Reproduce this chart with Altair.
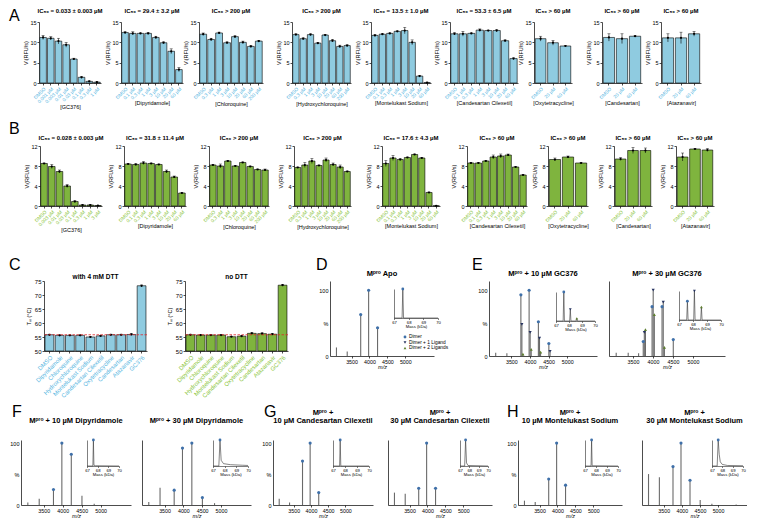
import altair as alt
import pandas as pd

FONT = "Liberation Sans"
BLUE = "#8fcbe0"
BLUE_TXT = "#5ab7df"
GREEN = "#7fb43e"
GREEN_TXT = "#8cc63e"
DIMER_COL = "#3f70a9"
LIG1_COL = "#26335f"
LIG2_COL = "#5e7f2e"
PEAK_COL = "#6a6a6a"

# ---------------- concentrations / categories ----------------
conc_gc376_a = ["DMSO", "0.001 µM", "0.003 µM", "0.01 µM", "0.03 µM", "0.1 µM", "0.3 µM", "1 µM"]
conc_gc376_b = ["DMSO", "0.003 µM", "0.01 µM", "0.03 µM", "0.1 µM", "0.3 µM", "1 µM", "3 µM"]
conc_60 = ["DMSO", "0.1 µM", "0.3 µM", "1 µM", "3 µM", "10 µM", "20 µM", "60 µM"]
conc_200 = ["DMSO", "0.3 µM", "1 µM", "3 µM", "10 µM", "20 µM", "60 µM", "200 µM"]
conc_3 = ["DMSO", "20 µM", "60 µM"]
drug_titles = ["[GC376]", "[Dipyridamole]", "[Chloroquine]", "[Hydroxychloroquine]",
               "[Montelukast Sodium]", "[Candesartan Cilexetil]", "[Oxytetracycline]",
               "[Candesartan]", "[Atazanavir]"]
ic50_a = ["IC₅₀ = 0.033 ± 0.003 µM", "IC₅₀ = 29.4 ± 3.2 µM", "IC₅₀ > 200 µM", "IC₅₀ > 200 µM",
          "IC₅₀ = 13.5 ± 1.0 µM", "IC₅₀ = 53.3 ± 6.5 µM", "IC₅₀ > 60 µM", "IC₅₀ > 60 µM", "IC₅₀ > 60 µM"]
ic50_b = ["IC₅₀ = 0.028 ± 0.003 µM", "IC₅₀ = 31.8 ± 11.4 µM", "IC₅₀ > 200 µM", "IC₅₀ > 200 µM",
          "IC₅₀ = 17.6 ± 4.3 µM", "IC₅₀ > 60 µM", "IC₅₀ > 60 µM", "IC₅₀ > 60 µM", "IC₅₀ > 60 µM"]

# ---------------- row A (RFU/s) ----------------
a_gc376 = [11.2, 11.0, 10.3, 9.4, 5.9, 1.4, 0.4, 0.2]
a_gc376_err = [0.5, 0.4, 0.7, 0.6, 0.2, 0.2, 0.1, 0.1]
a_dip = [12.4, 12.2, 12.2, 12.2, 11.2, 9.9, 7.8, 3.3]
a_dip_err = [0.2, 0.4, 0.1, 0.2, 0.3, 0.2, 0.6, 0.5]
a_cq = [12.0, 10.7, 12.3, 9.9, 11.4, 10.0, 9.0, 10.3]
a_cq_err = [0.3, 0.3, 0.2, 0.2, 0.2, 0.3, 0.2, 0.2]
a_hcq = [11.9, 10.9, 11.9, 9.8, 11.8, 10.4, 9.0, 9.2]
a_hcq_err = [0.2, 0.2, 0.2, 0.2, 0.1, 0.3, 0.3, 0.2]
a_mk = [11.7, 12.0, 12.2, 12.7, 12.9, 10.0, 1.7, 0.1]
a_mk_err = [0.2, 0.1, 0.1, 0.1, 0.8, 0.6, 0.2, 0.1]
a_cc = [12.1, 12.1, 12.2, 13.0, 12.9, 12.9, 10.4, 6.0]
a_cc_err = [0.3, 0.6, 0.1, 0.3, 0.1, 0.3, 0.2, 0.2]
a_oxy = [10.9, 9.9, 9.1]
a_oxy_err = [0.6, 0.6, 0.1]
a_cand = [11.2, 10.9, 11.5]
a_cand_err = [0.9, 1.2, 0.1]
a_ata = [11.1, 11.1, 12.1]
a_ata_err = [1.0, 1.4, 0.6]

# ---------------- row B (RFU/s) ----------------
b_gc376 = [8.5, 7.9, 6.9, 4.0, 0.9, 0.2, 0.2, 0.1]
b_gc376_err = [0.1, 0.4, 0.3, 0.3, 0.2, 0.05, 0.05, 0.05]
b_dip = [8.4, 8.3, 8.6, 8.5, 8.3, 6.9, 5.8, 2.6]
b_dip_err = [0.1, 0.2, 0.3, 0.1, 0.1, 0.3, 0.2, 0.1]
b_cq = [8.2, 8.0, 9.0, 8.0, 8.7, 7.9, 7.3, 7.2]
b_cq_err = [0.1, 0.4, 0.1, 0.1, 0.1, 0.1, 0.1, 0.2]
b_hcq = [7.7, 8.2, 9.0, 8.1, 9.2, 8.3, 7.8, 6.9]
b_hcq_err = [0.1, 0.5, 0.5, 0.1, 0.4, 0.3, 0.4, 0.1]
b_mk = [8.5, 9.6, 9.3, 9.7, 10.3, 9.6, 2.7, 0.05]
b_mk_err = [0.6, 0.5, 0.2, 0.1, 0.1, 0.1, 0.1, 0.05]
b_cc = [8.6, 8.6, 9.0, 9.8, 10.0, 10.2, 7.8, 6.2]
b_cc_err = [0.1, 0.1, 0.1, 0.4, 0.4, 0.2, 0.1, 0.1]
b_oxy = [9.3, 9.8, 8.6]
b_oxy_err = [0.3, 0.2, 0.05]
b_cand = [9.4, 11.1, 11.1]
b_cand_err = [0.3, 0.6, 0.5]
b_ata = [9.8, 11.4, 11.2]
b_ata_err = [0.8, 0.1, 0.3]

# ---------------- row C (Tm) ----------------
c_compounds = ["DMSO", "Dipyridamole", "Chloroquine", "Hydroxychloroquine", "Montelukast Sodium",
               "Candesartan Cilexetil", "Oxytetracycline", "Candesartan", "Atazanavir", "GC376"]
c_dtt = [55.8, 55.6, 55.6, 55.6, 55.0, 55.4, 55.8, 55.8, 55.9, 73.3]
c_dtt_err = [0.2, 0.1, 0.1, 0.1, 0.2, 0.1, 0.2, 0.2, 0.3, 0.3]
c_nodtt = [55.8, 55.7, 55.7, 55.7, 55.1, 55.3, 56.3, 56.2, 56.0, 73.5]
c_nodtt_err = [0.2, 0.1, 0.1, 0.1, 0.1, 0.2, 0.3, 0.3, 0.2, 0.3]

# ---------------- native MS spectra (m/z, % intensity) ----------------
legend_names = ["Dimer", "Dimer + 1 Ligand", "Dimer + 2 Ligands"]
inset_ticks = [67, 68, 69, 70]
mz_ticks = [3500, 4000, 4500, 5000]

d_minor_mz = [3080, 3380]
d_minor_int = [13, 7]
d_dimer_mz = [3756, 3977, 4226]
d_dimer_int = [63, 100, 43]
d_inset_mass = [67.0, 67.55, 67.6, 67.65, 70.0]
d_inset_int = [0, 0, 100, 0, 0]

e1_minor_mz = [3080, 3380]
e1_minor_int = [5, 4]
e1_dimer_mz = [3756, 3977, 4226, 4507]
e1_dimer_int = [93, 100, 52, 19]
e1_l1_mz = [3783, 4005, 4256, 4539]
e1_l1_int = [48, 36, 27, 7]
e1_l2_mz = [3811, 4033, 4285]
e1_l2_int = [3, 10, 6]
e1_inset_mass = [67.0, 67.55, 67.6, 67.65, 68.05, 68.1, 68.15, 68.55, 68.6, 68.65, 70.0]
e1_inset_int = [0, 0, 100, 0, 0, 40, 0, 0, 9, 0, 0]
e1_inset_dimer = [100]
e1_inset_l1 = [40]
e1_inset_l2 = [9]

e2_minor_mz = [3080, 3380, 3640]
e2_minor_int = [5, 5, 4]
e2_dimer_mz = [3756, 3977, 4226, 4507]
e2_dimer_int = [22, 75, 75, 25]
e2_l1_mz = [3783, 4005, 4256]
e2_l1_int = [36, 100, 82]
e2_l2_mz = [3811, 4033, 4285]
e2_l2_int = [40, 63, 13]
e2_inset_mass = [67.0, 67.55, 67.6, 67.65, 68.05, 68.1, 68.15, 68.55, 68.6, 68.65, 70.0]
e2_inset_int = [0, 0, 65, 0, 0, 100, 0, 0, 45, 0, 0]
e2_inset_dimer = [65]
e2_inset_l1 = [100]
e2_inset_l2 = [45]

f1_minor_mz = [3080, 3380, 4507, 4830]
f1_minor_int = [4, 10, 15, 2]
f1_dimer_mz = [3756, 3977, 4226]
f1_dimer_int = [25, 100, 82]
f1_inset_mass = [67.0, 67.55, 67.6, 67.65, 67.8, 70.0]
f1_inset_int = [0, 0, 100, 3, 1, 0]

f2_minor_mz = [3080, 3380, 4830]
f2_minor_int = [5, 28, 3]
f2_dimer_mz = [3756, 3977, 4226, 4507]
f2_dimer_int = [24, 92, 100, 12]
f2_inset_mass = [67.0, 67.5, 67.6, 67.7, 67.9, 68.5, 69.5, 70.0]
f2_inset_int = [0, 0, 100, 22, 9, 5, 3, 2]

g1_minor_mz = [3080, 3380]
g1_minor_int = [10, 4]
g1_dimer_mz = [3756, 3977, 4226]
g1_dimer_int = [71, 100, 20]
g1_inset_mass = [67.0, 67.55, 67.6, 67.65, 70.0]
g1_inset_int = [0, 0, 100, 0, 0]

g2_minor_mz = [3080, 3380]
g2_minor_int = [20, 18]
g2_dimer_mz = [3756, 3977, 4226]
g2_dimer_int = [27, 100, 27]
g2_inset_mass = [67.0, 67.5, 67.6, 67.7, 67.85, 70.0]
g2_inset_int = [0, 0, 100, 12, 2, 0]

h1_minor_mz = [3080, 3380]
h1_minor_int = [7, 5]
h1_dimer_mz = [3756, 3977, 4226]
h1_dimer_int = [42, 100, 32]
h1_inset_mass = [67.0, 67.55, 67.6, 67.65, 70.0]
h1_inset_int = [0, 0, 100, 1, 0]

h2_minor_mz = [3080, 3380, 4507, 4830, 5500]
h2_minor_int = [50, 45, 8, 2, 1]
h2_dimer_mz = [3756, 3977, 4226]
h2_dimer_int = [62, 100, 40]
h2_inset_mass = [67.0, 67.5, 67.6, 67.7, 67.8, 68.0, 68.5, 70.0]
h2_inset_int = [0, 0, 100, 45, 16, 6, 2, 1]

ins_peak_mass = [67.6]
ins_l1_mass = [68.1]
ins_l2_mass = [68.6]
ins_full = [100]

MPRO = "Mᵖʳᵒ"


# ---------------- helpers ----------------
def spacer(top, left):
    # invisible extent marker: reserves room above / left of the plot area
    return alt.Chart(pd.DataFrame({"s": [0]})).mark_rule(strokeOpacity=0, strokeWidth=0.1).encode(
        x=alt.value(-left), x2=alt.value(0), y=alt.value(-top), y2=alt.value(0))


def dummy():
    return alt.Chart(pd.DataFrame({"s": [0]})).mark_rule(strokeOpacity=0, strokeWidth=0.1).encode(
        x=alt.value(0), y=alt.value(0), y2=alt.value(1)).properties(width=1, height=1)


def letter_mark(ch, dx, dy):
    return alt.Chart(pd.DataFrame({"t": [ch]})).mark_text(
        fontSize=16, font=FONT, align="left", baseline="top", color="black").encode(
        text="t:N", x=alt.value(dx), y=alt.value(dy))


def title_marks(lines, w, offset, size, lh):
    if isinstance(lines, str):
        lines = [lines]
    out = []
    for k, line in enumerate(reversed(lines)):
        out.append(alt.Chart(pd.DataFrame({"t": [line]})).mark_text(
            fontSize=size, font=FONT, fontWeight="bold", align="center", baseline="bottom",
            color="black").encode(text="t:N", x=alt.value(w / 2), y=alt.value(-offset - k * lh)))
    return out


def bar_panel(labels, vals, errs, fill, txtc, ymin, ymax, yticks, w, h, title, xtitle, ytitle,
              top, left, title_offset, letter=None, lpos=(0, 0), ref=None, label_size=4.8,
              title_size=6.0, ytitle_pad=1.5, ylab_size=5.5):
    df = pd.DataFrame({"label": labels, "v": vals, "e": errs})
    df["lo"] = (df["v"] - df["e"]).clip(lower=ymin)
    df["hi"] = df["v"] + df["e"]
    df["base"] = ymin
    sc = alt.Scale(domain=[ymin, ymax], nice=False, zero=False)
    xs = alt.Scale(paddingInner=0.14, paddingOuter=0.1)
    xax = alt.Axis(title=xtitle, labelAngle=-45, labelColor=txtc, labelFontSize=label_size,
                   labelOverlap=False, labelPadding=1, tickSize=2, titleFontSize=5.5,
                   titlePadding=1, titleFontWeight="normal")
    yax = alt.Axis(values=yticks, title=ytitle, labelFontSize=ylab_size, labelPadding=1, tickSize=2,
                   titleFontSize=5.5, titlePadding=ytitle_pad, minExtent=0,
                   titleFontWeight="normal")
    base = alt.Chart(df)
    xe = alt.X("label:N", sort=labels, scale=xs, axis=xax)
    bars = base.mark_bar(fill=fill, stroke="black", strokeWidth=0.6).encode(
        x=xe, y=alt.Y("v:Q", scale=sc, axis=yax), y2=alt.Y2("base"))
    err = base.mark_rule(color="black", strokeWidth=0.6).encode(
        x=xe, y=alt.Y("lo:Q", scale=sc, axis=yax), y2=alt.Y2("hi"))
    cap = base.mark_tick(color="black", thickness=0.6, size=3).encode(
        x=xe, y=alt.Y("hi:Q", scale=sc, axis=yax))
    pts = base.mark_point(filled=True, color="black", size=5, opacity=1).encode(
        x=xe, y=alt.Y("v:Q", scale=sc, axis=yax))
    layers = [bars, err, cap, pts]
    if ref is not None:
        layers.append(alt.Chart(pd.DataFrame({"r": [ref]})).mark_rule(
            color="#e0262b", strokeDash=[2.5, 1.5], strokeWidth=0.8).encode(
            y=alt.Y("r:Q", scale=sc, axis=yax)))
    layers.append(spacer(top, left))
    layers += title_marks(title, w, title_offset, title_size, 8)
    if letter:
        layers.append(letter_mark(letter, lpos[0], lpos[1]))
    return alt.layer(*layers).properties(width=w, height=h)


def spectrum(w, h, ymax, title, minor_mz, minor_int, dim_mz, dim_int, l1_mz, l1_int, l2_mz, l2_int,
             ins_mass, ins_int, ins_pts, ix, iy, show_labels, top, left, title_offset,
             letter=None, lpos=(0, 0), legend_pos=None, title_size=7.5):
    df = pd.DataFrame({"mz": minor_mz + dim_mz + l1_mz + l2_mz,
                       "int": minor_int + dim_int + l1_int + l2_int})
    df["base"] = 0
    xs = alt.Scale(domain=[2900, 5800], nice=False)
    ys = alt.Scale(domain=[0, ymax], nice=False)
    xax = alt.Axis(values=mz_ticks, format="d", title="m/z", titleFontStyle="italic",
                   labelFontSize=5.3, titleFontSize=5.5, tickSize=2, labelPadding=1, titlePadding=0,
                   titleFontWeight="normal", labelFlush=False)
    yax = alt.Axis(values=[0, 50, 100], labels=show_labels,
                   labelExpr="datum.value == 50 ? '%' : datum.label", ticks=False, title=None,
                   labelFontSize=5.5, labelPadding=2, minExtent=0)
    xe = alt.X("mz:Q", scale=xs, axis=xax)
    ye = alt.Y("int:Q", scale=ys, axis=yax)
    main = [alt.Chart(df).mark_rule(color=PEAK_COL, strokeWidth=1.1).encode(
        x=xe, y=ye, y2=alt.Y2("base"))]
    for mzs, ints, shape, col in [(dim_mz, dim_int, "circle", DIMER_COL),
                                  (l1_mz, l1_int, "triangle-down", LIG1_COL),
                                  (l2_mz, l2_int, "triangle-up", LIG2_COL)]:
        if mzs:
            main.append(alt.Chart(pd.DataFrame({"mz": mzs, "int": ints})).mark_point(
                shape=shape, filled=True, color=col, size=10, opacity=1).encode(x=xe, y=ye))
    main.append(spacer(top, left))
    main += title_marks(title, w, title_offset, title_size, 8.5)
    if letter:
        main.append(letter_mark(letter, lpos[0], lpos[1]))
    if legend_pos is not None:
        shapes = ["circle", "triangle-down", "triangle-up"]
        cols = [DIMER_COL, LIG1_COL, LIG2_COL]
        for i, name in enumerate(legend_names):
            main.append(alt.Chart(pd.DataFrame({"t": [name]})).mark_point(
                shape=shapes[i], filled=True, color=cols[i], size=8, opacity=1).encode(
                x=alt.value(legend_pos[0]), y=alt.value(legend_pos[1] + i * 5.5)))
            main.append(alt.Chart(pd.DataFrame({"t": [name]})).mark_text(
                fontSize=4.8, font=FONT, align="left", baseline="middle", color="black").encode(
                text="t:N", x=alt.value(legend_pos[0] + 4), y=alt.value(legend_pos[1] + i * 5.5)))

    ixs = alt.Scale(domain=[67, 70], range=list(ix), nice=False)
    iys = alt.Scale(domain=[0, 100], range=[iy[0], iy[1]], nice=False)
    ixax = alt.Axis(orient="bottom", offset=iy[0] - h, values=inset_ticks, title="Mass (kDa)",
                    labelFontSize=4.2, titleFontSize=4.2, tickSize=1.5, labelPadding=0.5,
                    titlePadding=0.5, domainWidth=0.5, tickWidth=0.5, titleFontWeight="normal",
                    labelFlush=False)
    iyax = alt.Axis(orient="left", offset=-ix[0], labels=False, ticks=False, title=None,
                    domainWidth=0.5, minExtent=0)
    ixe = alt.X("mass:Q", scale=ixs, axis=ixax)
    iye = alt.Y("rel:Q", scale=iys, axis=iyax)
    inset = [alt.Chart(pd.DataFrame({"mass": ins_mass, "rel": ins_int})).mark_line(
        color="#333333", strokeWidth=0.6).encode(x=ixe, y=iye)]
    for masses, rels, shape, col in ins_pts:
        inset.append(alt.Chart(pd.DataFrame({"mass": masses, "rel": rels})).mark_point(
            shape=shape, filled=True, color=col, size=8, opacity=1).encode(x=ixe, y=iye))
    ch = alt.layer(alt.layer(*main), alt.layer(*inset)).resolve_scale(x="independent", y="independent")
    return ch.properties(width=w, height=h)


# ---------------- rows A / B ----------------
a_sets = [(conc_gc376_a, a_gc376, a_gc376_err), (conc_60, a_dip, a_dip_err), (conc_200, a_cq, a_cq_err),
          (conc_200, a_hcq, a_hcq_err), (conc_60, a_mk, a_mk_err), (conc_60, a_cc, a_cc_err),
          (conc_3, a_oxy, a_oxy_err), (conc_3, a_cand, a_cand_err), (conc_3, a_ata, a_ata_err)]
b_sets = [(conc_gc376_b, b_gc376, b_gc376_err), (conc_60, b_dip, b_dip_err), (conc_200, b_cq, b_cq_err),
          (conc_200, b_hcq, b_hcq_err), (conc_60, b_mk, b_mk_err), (conc_60, b_cc, b_cc_err),
          (conc_3, b_oxy, b_oxy_err), (conc_3, b_cand, b_cand_err), (conc_3, b_ata, b_ata_err)]
a_widths = [62, 62, 64, 59, 60, 68, 38, 40, 40]
a_left = [14, 18, 16, 29, 20, 19, 16, 28, 19]
b_widths = [62, 62, 60, 57, 58, 60, 40, 38, 38]
b_left = [14, 20, 23, 25, 31, 27, 21, 25, 24]
VI = "Vᵢ(RFU/s)"

row_a = []
for i, (labs, v, e) in enumerate(a_sets):
    row_a.append(bar_panel(labs, v, e, BLUE, BLUE_TXT, 0, 15, [0, 5, 10, 15], a_widths[i], 61,
                           ic50_a[i], drug_titles[i], VI, top=14, left=a_left[i], title_offset=8,
                           letter="A" if i == 0 else None, lpos=(-30, -14)))
row_b = []
for i, (labs, v, e) in enumerate(b_sets):
    row_b.append(bar_panel(labs, v, e, GREEN, GREEN_TXT, 0, 12, [0, 4, 8, 12], b_widths[i], 60,
                           ic50_b[i], drug_titles[i], VI, top=35, left=b_left[i], title_offset=5,
                           letter="B" if i == 0 else None, lpos=(-31, -25)))

# ---------------- row C / D / E ----------------
TM = "Tₘ (°C)"
TOP_C = 47
c1 = bar_panel(c_compounds, c_dtt, c_dtt_err, BLUE, BLUE_TXT, 50, 75, [50, 55, 60, 65, 70, 75], 103, 70,
               "with 4 mM DTT", None, TM, top=TOP_C, left=14, title_offset=1, letter="C",
               lpos=(-35, -24), ref=c_dtt[0], label_size=6.0, title_size=6.5, ytitle_pad=3, ylab_size=6)
c2 = bar_panel(c_compounds, c_nodtt, c_nodtt_err, GREEN, GREEN_TXT, 50, 75, [50, 55, 60, 65, 70, 75], 103, 70,
               "no DTT", None, TM, top=TOP_C, left=37, title_offset=1, ref=c_nodtt[0], label_size=6.0,
               title_size=6.5, ytitle_pad=3, ylab_size=6)

d_panel = spectrum(104, 75, 114, MPRO + " Apo", d_minor_mz, d_minor_int, d_dimer_mz, d_dimer_int,
                   [], [], [], [], d_inset_mass, d_inset_int,
                   [(ins_peak_mass, ins_full, "circle", DIMER_COL)],
                   (64, 108), (37, 8), True, TOP_C, 41, title_offset=3,
                   letter="D", lpos=(-14, -24), legend_pos=(75, 56))
e1_panel = spectrum(108, 75, 114, MPRO + " + 10 µM GC376", e1_minor_mz, e1_minor_int,
                    e1_dimer_mz, e1_dimer_int, e1_l1_mz, e1_l1_int, e1_l2_mz, e1_l2_int,
                    e1_inset_mass, e1_inset_int,
                    [(ins_peak_mass, e1_inset_dimer, "circle", DIMER_COL),
                     (ins_l1_mass, e1_inset_l1, "triangle-down", LIG1_COL),
                     (ins_l2_mass, e1_inset_l2, "triangle-up", LIG2_COL)],
                    (67, 106), (40, 11), True, TOP_C, 40, title_offset=3,
                    letter="E", lpos=(-17, -24))
e2_panel = spectrum(116, 75, 114, MPRO + " + 30 µM GC376", e2_minor_mz, e2_minor_int,
                    e2_dimer_mz, e2_dimer_int, e2_l1_mz, e2_l1_int, e2_l2_mz, e2_l2_int,
                    e2_inset_mass, e2_inset_int,
                    [(ins_peak_mass, e2_inset_dimer, "circle", DIMER_COL),
                     (ins_l1_mass, e2_inset_l1, "triangle-down", LIG1_COL),
                     (ins_l2_mass, e2_inset_l2, "triangle-up", LIG2_COL)],
                    (70, 112), (39, 10), False, TOP_C, 11, title_offset=3)


# ---------------- row F / G / H ----------------
TOP_4 = 41


def simple_spec(w, title, mmz, mint, dmz, dint, imass, iint, ix, labels, left, letter=None, lx=0):
    return spectrum(w, 65, 105, title, mmz, mint, dmz, dint, [], [], [], [], imass, iint,
                    [(ins_peak_mass, ins_full, "circle", DIMER_COL)], ix, (26, 0), labels,
                    TOP_4, left, title_offset=15, letter=letter, lpos=(lx, -36))


f1_panel = simple_spec(110, MPRO + " + 10 µM Dipyridamole", f1_minor_mz, f1_minor_int, f1_dimer_mz,
                       f1_dimer_int, f1_inset_mass, f1_inset_int, (66, 98), True, 11, "F", -9)
f2_panel = simple_spec(109, MPRO + " + 30 µM Dipyridamole", f2_minor_mz, f2_minor_int, f2_dimer_mz,
                       f2_dimer_int, f2_inset_mass, f2_inset_int, (71, 106), False, 11)
g1_panel = simple_spec(100, [MPRO + " +", "10 µM Candesartan Cilexetil"], g1_minor_mz, g1_minor_int,
                       g1_dimer_mz, g1_dimer_int, g1_inset_mass, g1_inset_int, (60, 96), True, 22, "G", -9)
g2_panel = simple_spec(104, [MPRO + " +", "30 µM Candesartan Cilexetil"], g2_minor_mz, g2_minor_int,
                       g2_dimer_mz, g2_dimer_int, g2_inset_mass, g2_inset_int, (72, 100), False, 15)
h1_panel = simple_spec(104, [MPRO + " +", "10 µM Montelukast Sodium"], h1_minor_mz, h1_minor_int,
                       h1_dimer_mz, h1_dimer_int, h1_inset_mass, h1_inset_int, (67, 100), True, 26, "H", -11)
h2_panel = simple_spec(105, [MPRO + " +", "30 µM Montelukast Sodium"], h2_minor_mz, h2_minor_int,
                       h2_dimer_mz, h2_dimer_int, h2_inset_mass, h2_inset_int, (70, 101), False, 20)


def row(panels):
    return alt.hconcat(dummy(), alt.hconcat(*panels, spacing=0), spacing=0)


row1 = row(row_a)
row2 = row(row_b)
row3 = row([c1, c2, d_panel, e1_panel, e2_panel])
row4 = row([f1_panel, f2_panel, g1_panel, g2_panel, h1_panel, h2_panel])

chart = alt.vconcat(row1, row2, row3, row4, spacing=0).properties(padding=0).configure_view(
    stroke=None).configure_axis(
    labelFont=FONT, titleFont=FONT, domainColor="black", tickColor="black", labelColor="black",
    titleColor="black", domainWidth=0.7, tickWidth=0.7, grid=False).configure_text(font=FONT)

chart.save("out.html", embed_options={"renderer": "svg", "actions": False})
